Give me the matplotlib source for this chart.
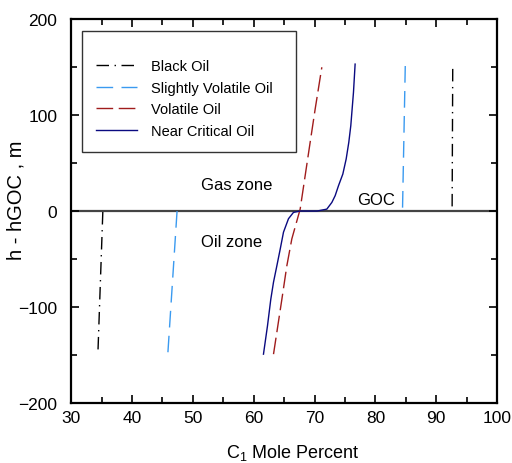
import numpy as np
import matplotlib
matplotlib.use('Agg')
import matplotlib.pyplot as plt
from matplotlib.ticker import MultipleLocator

plt.rcParams['font.family'] = ['Liberation Sans', 'DejaVu Sans']
plt.rcParams['mathtext.fontset'] = 'custom'
plt.rcParams['mathtext.rm'] = 'Liberation Sans'
plt.rcParams['mathtext.it'] = 'Liberation Sans'

# C1 mole percent vs height above the gas-oil contact (m)
black_gas_x = [92.7, 92.6]
black_gas_h = [148, 2]
black_oil_x = [35.2, 34.4]
black_oil_h = [-1, -147]

slight_gas_x = [84.9, 84.45]
slight_gas_h = [151, 2]
slight_oil_x = [47.4, 45.9]
slight_oil_h = [0, -147]

volatile_x = [63.25, 64.62, 65.44, 66.26, 67.63, 68.45, 69.27, 70.09, 71.19]
volatile_h = [-149, -92, -57, -29, 2, 36.8, 71.5, 106, 149.7]

critical_x = [61.6, 62.26, 62.8, 63.25, 63.8, 64.34, 64.89, 65.71, 66.53, 67.63,
              68.2, 70.4, 72.01, 72.84, 73.38, 73.93, 74.64, 75.19, 75.62,
              75.95, 76.39, 76.66]
critical_h = [-149, -119.5, -92, -74, -57, -40, -22, -8, -1.4, 0,
              0, 0, 2, 9, 16, 26.4, 38.5, 54.2, 71.5,
              88.9, 123.6, 153]

fig = plt.figure(figsize=(5.12, 4.64), dpi=100)
ax = fig.add_axes([0.139, 0.129, 0.832, 0.828])

# Gas-oil contact
ax.axhline(0, color='#444444', lw=1.6, zorder=1)

ax.plot(black_gas_x, black_gas_h, color='black', lw=1.0,
        dashes=(9, 4, 1, 4), label='Black Oil')
ax.plot(black_oil_x, black_oil_h, color='black', lw=1.0, dashes=(9, 4, 1, 4))
ax.plot(slight_gas_x, slight_gas_h, color='#3a9af0', lw=1.0,
        dashes=(12, 6), label='Slightly Volatile Oil')
ax.plot(slight_oil_x, slight_oil_h, color='#3a9af0', lw=1.0, dashes=(12, 6))
ax.plot(volatile_x, volatile_h, color='#a01c1c', lw=1.0,
        dashes=(12, 4), label='Volatile Oil')
ax.plot(critical_x, critical_h, color='#0a0a80', lw=1.0,
        label='Near Critical Oil')

ax.text(57.2, 28, 'Gas zone', fontsize=12, ha='center', va='center')
ax.text(56.3, -32, 'Oil zone', fontsize=12, ha='center', va='center')
ax.text(80.1, 12, 'GOC', fontsize=12, ha='center', va='center')

ax.set_xlim(30, 100)
ax.set_ylim(-200, 200)
ax.xaxis.set_major_locator(MultipleLocator(10))
ax.xaxis.set_minor_locator(MultipleLocator(5))
ax.yaxis.set_major_locator(MultipleLocator(100))
ax.yaxis.set_minor_locator(MultipleLocator(50))
ax.tick_params(which='both', direction='in', top=True, right=True,
               labelsize=12.5, width=1.2)
ax.tick_params(which='major', length=6)
ax.tick_params(which='minor', length=4)
ax.tick_params(axis='y', pad=10)
ax.tick_params(axis='x', pad=5)
for s in ax.spines.values():
    s.set_linewidth(1.6)

ax.set_xlabel(r'C$_1$ Mole Percent', fontsize=13)
ax.xaxis.set_label_coords(0.52, -0.1)
ax.set_ylabel('h - hGOC , m', fontsize=14.5)
ax.yaxis.set_label_coords(-0.108, 0.53)

leg = ax.legend(loc='upper left', bbox_to_anchor=(0.026, 0.5, 0.502, 0.469),
                mode='expand', borderaxespad=0, fontsize=10.5,
                handlelength=2.8, handletextpad=0.95, borderpad=0.95,
                labelspacing=0.52, fancybox=False, edgecolor='black',
                title=' ', title_fontsize=5)
leg.get_frame().set_linewidth(1.0)

plt.savefig('out.png', dpi=100)
